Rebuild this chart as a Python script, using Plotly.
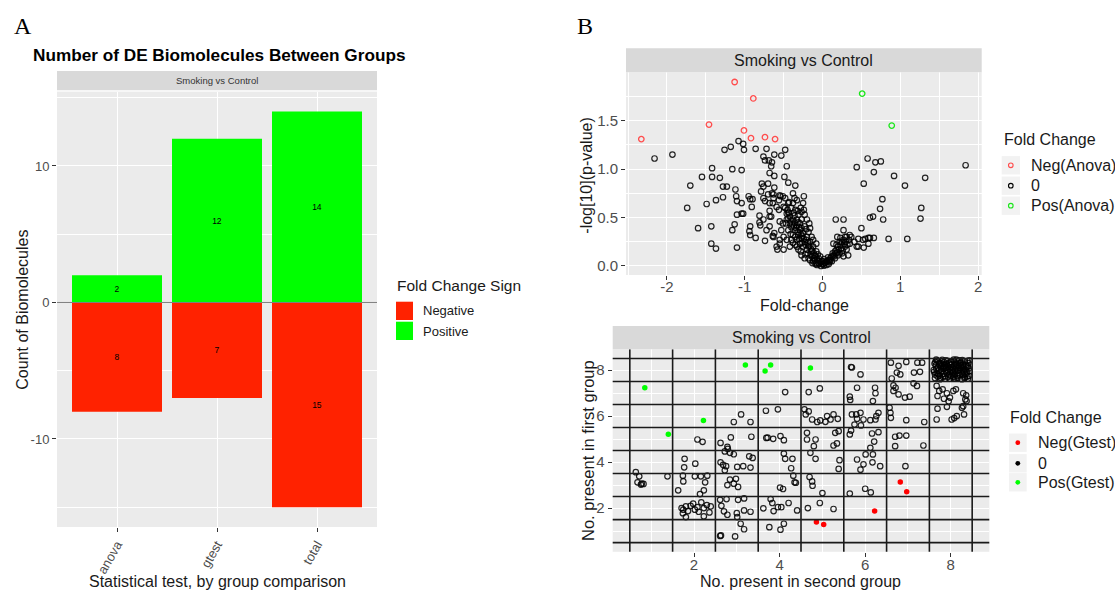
import plotly.graph_objects as go

W, H = 1115, 591
FONT = "Liberation Sans, Arial, Helvetica, sans-serif"
SERIF = "Liberation Serif, Times New Roman, serif"
PANEL_BG = "#EBEBEB"
STRIP_BG = "#D9D9D9"
KEY_BG = "#F2F2F2"
TICK_COLOR = "#4D4D4D"
TITLE_COLOR = "#1A1A1A"

# ---------------- Panel A data ----------------
categories = ["anova", "gtest", "total"]
positive_counts = [2, 12, 14]
negative_counts = [8, 7, 15]
bar_y_ticks = [-10, 0, 10]
bar_y_labels = ["-10", "0", "10"]

# ---------------- Volcano data (fold-change, -log10 p) ----------------
neg_anova_fc = [-2.33, -1.13, -0.89, -1.46, -1.01, -0.92, -0.74, -0.61]
neg_anova_p = [1.31, 1.90, 1.73, 1.46, 1.40, 1.32, 1.33, 1.31]
pos_anova_fc = [0.51, 0.89]
pos_anova_p = [1.78, 1.45]
zero_points = [
    (-2.16, 1.11), (-1.93, 1.15), (-1.70, 0.83), (-1.74, 0.60), (-1.60, 0.39), (-1.55, 0.92),
    (-1.49, 0.64), (-1.42, 1.01), (-1.42, 0.92), (-1.43, 0.41), (-1.43, 0.23), (-1.37, 0.18),
    (-1.37, 0.68), (-1.32, 0.91), (-1.28, 0.82), (-1.23, 0.82), (-1.28, 0.71), (-1.26, 1.20),
    (-1.18, 1.23), (-1.16, 1.00), (-1.16, 0.37), (-1.13, 0.43), (-1.12, 0.79), (-1.11, 0.72),
    (-1.08, 1.29), (-1.02, 1.26), (-1.01, 1.20), (-1.04, 0.99), (-1.10, 0.19), (-1.10, 0.67),
    (-1.04, 0.65), (-1.04, 0.54), (-1.02, 0.54), (-1.10, 0.53), (-0.95, 0.72), (-0.93, 0.69),
    (-0.90, 0.69), (-0.91, 0.61), (-0.93, 0.41), (-0.94, 0.36), (-0.93, 0.32), (-0.86, 0.29),
    (-0.86, 1.21), (-0.81, 0.52), (-0.81, 0.45), (-0.79, 0.77), (-0.78, 0.85), (-0.76, 1.13),
    (-0.74, 1.09), (-0.72, 1.21), (-0.69, 1.09), (-0.65, 1.07), (-0.66, 1.03), (-0.68, 0.96),
    (-0.62, 0.93), (-0.62, 0.81), (-0.76, 0.70), (-0.74, 0.67), (-0.70, 0.74), (-0.63, 0.74),
    (-0.68, 0.65), (-0.64, 0.65), (-0.68, 0.57), (-0.74, 0.26), (-0.64, 0.31), (-0.68, 0.41),
    (-0.66, 0.51), (-0.62, 1.15), (-0.53, 1.14), (-0.48, 1.20), (-0.46, 1.03), (-0.49, 0.92),
    (-0.44, 0.86), (-0.35, 0.83), (-0.54, 0.72), (-0.51, 0.72), (-0.56, 0.68), (-0.50, 0.61),
    (-0.44, 0.65), (-0.38, 0.65), (-0.36, 0.70), (-0.24, 0.72), (-0.25, 0.65), (-0.56, 0.58),
    (-0.51, 0.44), (-0.55, 0.23), (-0.58, 0.17), (-0.62, 0.34),
    (-0.48, 0.70), (-0.43, 0.66), (-0.38, 0.75), (-0.33, 0.68), (-0.55, 0.73), (-0.63, 0.70),
    (-0.65, 0.75), (-0.76, 0.82), (-0.70, 0.85), (-0.59, 0.61), (-0.68, 0.51), (-0.76, 0.48),
    (-0.80, 0.42), (-0.72, 0.37), (-0.63, 0.30), (-0.55, 0.27), (-0.59, 0.20), (-0.53, 0.37),
    (-0.46, 0.48), (-0.55, 0.46),
    (-0.48, 0.60), (-0.46, 0.54), (-0.44, 0.49), (-0.47, 0.44), (-0.42, 0.44), (-0.40, 0.40),
    (-0.38, 0.48), (-0.35, 0.37), (-0.33, 0.42), (-0.31, 0.32), (-0.29, 0.37), (-0.27, 0.29),
    (-0.25, 0.34), (-0.23, 0.25), (-0.20, 0.30), (-0.18, 0.20), (-0.16, 0.25), (-0.14, 0.15),
    (-0.12, 0.20), (-0.10, 0.11), (-0.08, 0.15), (-0.05, 0.08), (-0.03, 0.10), (-0.01, 0.05),
    (0.01, 0.02), (0.03, 0.03), (0.05, 0.01), (0.08, 0.06), (0.10, 0.08), (-0.40, 0.27),
    (-0.35, 0.22), (-0.31, 0.17), (-0.27, 0.11), (-0.23, 0.08), (-0.16, 0.06), (-0.12, 0.05),
    (-0.50, 0.30), (-0.46, 0.27), (-0.42, 0.20), (-0.50, 0.17), (-0.35, 0.30), (-0.29, 0.23),
    (-0.20, 0.17), (-0.44, 0.37), (-0.38, 0.32), (-0.33, 0.27), (-0.25, 0.20), (-0.14, 0.10),
    (-0.10, 0.06), (-0.05, 0.03), (-0.27, 0.48), (-0.23, 0.41), (-0.18, 0.35), (-0.20, 0.48),
    (-0.16, 0.39), (-0.14, 0.30), (-0.12, 0.27), (-0.08, 0.23), (-0.31, 0.53), (-0.35, 0.58),
    (-0.27, 0.56), (-0.40, 0.60), (-0.23, 0.53), (-0.17, 0.44), (-0.29, 0.44), (-0.33, 0.48),
    (-0.42, 0.51), (-0.07, 0.01), (-0.02, 0.00), (0.02, 0.004), (0.08, 0.02), (0.12, 0.05),
    (-0.08, 0.03),
    (-0.45, 0.58), (-0.43, 0.55), (-0.41, 0.47), (-0.39, 0.43), (-0.37, 0.41), (-0.36, 0.45),
    (-0.34, 0.39), (-0.32, 0.35), (-0.30, 0.40), (-0.30, 0.28), (-0.28, 0.33), (-0.26, 0.31),
    (-0.26, 0.24), (-0.24, 0.28), (-0.22, 0.22), (-0.21, 0.27), (-0.19, 0.24), (-0.19, 0.13),
    (-0.17, 0.21), (-0.15, 0.18), (-0.15, 0.12), (-0.13, 0.16), (-0.11, 0.13), (-0.11, 0.08),
    (-0.09, 0.10), (-0.07, 0.07), (-0.06, 0.12), (-0.04, 0.05), (-0.04, 0.02), (-0.02, 0.04),
    (0.00, 0.02), (0.00, 0.05), (0.02, 0.07), (0.04, 0.04), (0.06, 0.05), (0.07, 0.09),
    (0.09, 0.04), (0.11, 0.09), (0.13, 0.13), (0.15, 0.10), (0.17, 0.13), (0.19, 0.14),
    (0.21, 0.17), (0.22, 0.13), (0.24, 0.18), (0.26, 0.16), (0.28, 0.23), (0.30, 0.25),
    (0.32, 0.22), (0.34, 0.27), (0.22, 0.25), (0.18, 0.22), (0.37, 0.30), (-0.36, 0.52),
    (-0.32, 0.57), (-0.28, 0.60), (-0.24, 0.58), (-0.21, 0.38), (-0.27, 0.39), (-0.31, 0.45),
    (-0.37, 0.55), (-0.44, 0.55), (-0.41, 0.33), (-0.38, 0.24), (-0.33, 0.20), (-0.28, 0.15),
    (-0.22, 0.12), (-0.18, 0.08), (-0.13, 0.03), (-0.09, 0.02),
    (0.10, 0.06), (0.12, 0.10), (0.14, 0.11), (0.16, 0.15), (0.18, 0.17), (0.20, 0.20),
    (0.23, 0.22), (0.25, 0.25), (0.27, 0.27), (0.29, 0.20), (0.31, 0.17), (0.25, 0.13),
    (0.20, 0.11), (0.16, 0.08), (0.27, 0.10), (0.33, 0.11), (0.35, 0.23), (0.23, 0.29),
    (0.29, 0.30), (0.17, 0.48), (0.27, 0.48), (0.50, 0.39), (0.46, 0.28), (0.55, 0.28),
    (0.61, 0.29), (0.66, 0.29), (0.46, 0.20), (0.53, 0.19), (0.41, 0.25), (0.31, 0.30),
    (0.19, 0.30), (0.14, 0.23), (0.27, 0.37), (0.35, 0.32),
    (0.58, 1.11), (0.68, 1.07), (0.75, 1.08), (0.44, 1.02), (0.66, 0.97), (0.92, 0.93),
    (0.53, 0.85), (1.06, 0.83), (1.32, 0.91), (1.84, 1.04), (0.77, 0.69), (0.74, 0.59),
    (1.27, 0.60), (1.26, 0.49), (0.65, 0.51), (0.61, 0.50), (0.78, 0.48), (0.85, 0.28),
    (1.09, 0.28), (0.59, 0.29), (0.52, 0.27), (0.44, 0.20), (0.59, 0.23),
]
volcano_x_ticks = [-2, -1, 0, 1, 2]
volcano_x_labels = ["-2", "-1", "0", "1", "2"]
volcano_y_ticks = [0.0, 0.5, 1.0, 1.5]
volcano_y_labels = ["0.0", "0.5", "1.0", "1.5"]

# ---------------- Presence data (second group, first group) ----------------
neg_gtest_x = [4.86, 5.03, 6.22, 6.82, 6.97]
neg_gtest_y = [1.40, 1.29, 1.87, 3.13, 2.71]
pos_gtest_x = [0.85, 1.40, 2.22, 3.20, 3.66, 3.79, 4.72]
pos_gtest_y = [7.23, 5.21, 5.81, 8.22, 7.96, 8.22, 8.09]
presence_zero_points = [
    (0.64, 3.56), (0.72, 3.38), (0.78, 3.06), (0.68, 3.12), (0.76, 3.02), (0.82, 3.05), (1.38, 3.38),
    (1.78, 4.14), (1.77, 3.77), (1.74, 3.41), (1.75, 3.16), (2.03, 3.93), (2.08, 4.98), (2.20, 4.88),
    (2.02, 3.38), (2.16, 3.38), (2.31, 3.41), (2.26, 3.12), (2.14, 2.61), (2.23, 2.77), (1.63, 2.77),
    (1.71, 2.00), (1.75, 1.93), (1.81, 2.07), (1.86, 1.87), (1.81, 1.61), (1.92, 2.10), (1.98, 2.19),
    (2.02, 1.93), (2.08, 2.04), (2.17, 2.25), (2.23, 2.00), (2.30, 2.13), (2.36, 1.81), (2.39, 2.07),
    (2.23, 1.64), (1.74, 1.78), (2.11, 1.84),
    (2.62, 4.83), (2.86, 5.07), (2.93, 5.74), (3.10, 6.07), (3.32, 5.74), (3.34, 5.10), (2.78, 4.66),
    (2.72, 4.46), (2.79, 4.57), (2.84, 4.40), (2.93, 4.34), (2.62, 3.99), (2.68, 3.88), (2.75, 3.82),
    (2.72, 3.64), (3.01, 3.79), (3.15, 3.82), (3.29, 4.25), (3.37, 4.18), (3.32, 3.76), (2.84, 3.24),
    (2.78, 3.00), (2.93, 3.06), (3.03, 2.92), (2.98, 3.27), (2.61, 2.36), (2.76, 2.39), (3.03, 2.36),
    (3.17, 2.42), (2.64, 2.10), (2.70, 1.86), (2.78, 1.71), (3.00, 1.78), (3.01, 1.61), (3.17, 1.90),
    (3.32, 1.84), (3.09, 1.32), (3.17, 1.08), (2.61, 0.79), (2.63, 0.81), (2.96, 0.77),
    (3.68, 6.23), (3.96, 6.29), (4.13, 7.04), (3.69, 5.05), (3.72, 5.06), (3.85, 5.01), (4.02, 5.13),
    (4.10, 4.95), (4.10, 4.37), (4.13, 4.14), (4.30, 4.14), (4.27, 3.73), (4.32, 3.41), (4.35, 3.12),
    (4.38, 3.10), (4.01, 2.89), (4.08, 2.83), (3.79, 2.39), (3.83, 2.22), (3.62, 1.99), (3.86, 1.87),
    (3.96, 2.04), (4.04, 2.04), (4.21, 2.22), (4.41, 1.90), (3.76, 1.17), (4.10, 1.32), (4.02, 1.06),
    (4.68, 7.04), (4.94, 7.20), (4.58, 6.29), (4.68, 6.20), (4.61, 6.07), (4.76, 5.85), (4.88, 5.74),
    (4.95, 5.81), (5.07, 5.75), (5.19, 5.85), (5.26, 6.07), (5.36, 5.88), (5.11, 6.00), (4.64, 5.27),
    (4.64, 4.98), (4.84, 4.98), (4.80, 4.69), (5.26, 4.72), (5.34, 4.81), (5.30, 5.27), (5.38, 5.34),
    (4.72, 4.40), (4.84, 4.14), (5.40, 4.08), (5.38, 3.70), (4.70, 3.35), (4.76, 3.16), (4.77, 2.97),
    (5.00, 2.65), (4.94, 2.22), (4.66, 2.00), (5.26, 1.96),
    (5.67, 8.13), (5.69, 8.11), (5.89, 7.81), (5.81, 7.23), (5.64, 6.84), (5.65, 6.70), (6.23, 7.23),
    (6.24, 6.99), (6.18, 6.65), (5.69, 6.07), (5.79, 6.07), (5.89, 6.14), (5.81, 5.88), (5.96, 5.85),
    (6.12, 5.82), (6.24, 5.85), (6.31, 6.14), (6.26, 6.00), (5.90, 5.59), (5.75, 5.63), (5.64, 5.20),
    (5.67, 5.37), (6.16, 5.24), (6.21, 4.89), (6.31, 5.30), (6.12, 4.62), (6.01, 4.33), (5.96, 3.90),
    (5.89, 3.67), (6.18, 4.33), (6.17, 3.99), (6.35, 3.82), (5.81, 4.11), (5.64, 2.63), (6.00, 2.84),
    (6.13, 2.68),
    (6.60, 8.32), (6.78, 8.18), (6.96, 8.35), (6.74, 7.89), (6.82, 7.81), (6.62, 7.63), (6.66, 7.33),
    (6.71, 7.23), (6.66, 7.09), (6.78, 6.94), (6.93, 6.80), (7.04, 6.84), (7.14, 7.89), (7.22, 8.32),
    (7.33, 8.32), (7.28, 7.92), (7.13, 7.42), (7.21, 7.31), (6.57, 6.36), (6.59, 6.14), (6.60, 5.92),
    (6.96, 5.82), (7.38, 5.74), (6.70, 5.10), (6.80, 5.15), (6.96, 5.15), (6.70, 4.69), (7.36, 4.72),
    (6.94, 3.82),
    (7.67, 7.31), (7.73, 7.09), (7.81, 7.16), (7.91, 6.99), (8.06, 7.09), (8.12, 7.16), (7.69, 6.87),
    (7.84, 6.75), (7.98, 6.80), (8.29, 6.99), (8.36, 6.90), (8.34, 6.72), (8.37, 6.65), (8.26, 6.36),
    (8.29, 6.43), (7.69, 6.32), (7.91, 6.40), (8.14, 6.00), (8.08, 5.91), (8.02, 5.85), (8.31, 6.07),
    (7.67, 5.85), (7.95, 6.64),
    (7.63, 7.65), (7.71, 7.82), (7.66, 8.05), (7.74, 8.31), (7.82, 7.70), (7.88, 7.95), (7.79, 8.18),
    (7.92, 8.40), (7.98, 7.62), (8.05, 7.88), (8.01, 8.12), (8.09, 8.36), (8.15, 7.74), (8.21, 8.02),
    (8.13, 8.24), (8.27, 8.43), (8.33, 7.68), (8.38, 7.91), (8.29, 8.15), (8.41, 8.30), (7.61, 7.92),
    (7.68, 8.41), (7.75, 7.60), (7.85, 8.08), (7.90, 8.27), (7.96, 7.80), (8.03, 8.00), (8.07, 8.45),
    (8.11, 7.62), (8.19, 7.85), (8.24, 8.33), (8.31, 8.05), (8.36, 8.20), (8.43, 7.75), (7.65, 8.20),
    (7.72, 7.98), (7.80, 8.44), (7.87, 7.62), (7.94, 8.15), (8.00, 8.35), (8.06, 7.71), (8.14, 8.10),
    (8.20, 8.42), (8.26, 7.60), (8.30, 7.96), (8.39, 8.40), (7.69, 7.72), (7.77, 8.12), (7.84, 8.34),
    (7.91, 7.86), (7.99, 8.22), (8.04, 7.93), (8.12, 8.29), (8.17, 7.97), (8.23, 8.18), (8.35, 7.83),
    (8.42, 8.07), (7.64, 8.35), (7.73, 8.25), (7.83, 7.84), (7.97, 8.04), (8.08, 8.17), (8.16, 8.40),
    (8.28, 7.78), (8.37, 8.12), (7.76, 7.66), (7.89, 8.10), (8.10, 7.80), (8.25, 8.08), (8.40, 7.62),
    (7.60, 8.00), (7.62, 8.28), (7.67, 7.88), (7.70, 8.10), (7.71, 8.38), (7.74, 7.76), (7.78, 7.95),
    (7.78, 8.28), (7.81, 8.05), (7.86, 7.74), (7.86, 8.20), (7.88, 8.42), (7.93, 7.70), (7.93, 7.99),
    (7.95, 8.30), (8.00, 7.74), (8.02, 8.25), (8.05, 8.08), (8.07, 7.62), (8.11, 7.95), (8.13, 8.45),
    (8.16, 7.66), (8.18, 8.18), (8.21, 7.78), (8.22, 8.30), (8.27, 7.90), (8.28, 8.22), (8.32, 7.64),
    (8.33, 8.38), (8.35, 8.00), (8.39, 7.72), (8.40, 8.15), (8.44, 7.95), (8.44, 8.42), (7.63, 7.80),
    (7.66, 8.45), (7.98, 7.92), (8.10, 8.02), (7.84, 8.15), (8.19, 8.10),
]
presence_ticks = [2, 4, 6, 8]
cell_edges = [0.5, 1.5, 2.5, 3.5, 4.5, 5.5, 6.5, 7.5, 8.5]

zero_fc = [a for a, b in zero_points]
zero_p = [b for a, b in zero_points]
pz_x = [a for a, b in presence_zero_points]
pz_y = [b for a, b in presence_zero_points]


def px(x):
    return x / W


def py(y):
    return 1 - y / H


RED = "#FF2200"
GREEN = "#00FF00"
V_RED = "#FF4D4D"
V_GREEN = "#1AE61A"
BLACK_CIRC = "rgba(0,0,0,0.85)"

fig = go.Figure()

# Panel A bars
fig.add_trace(go.Bar(
    x=categories, y=[-v for v in negative_counts], width=0.9,
    marker=dict(color=RED, line=dict(width=0)),
    text=[str(v) for v in negative_counts], textposition="inside", insidetextanchor="middle",
    textangle=0, textfont=dict(size=8.5, color="black", family=FONT),
    name="Negative", showlegend=False, xaxis="x", yaxis="y", hoverinfo="skip"))
fig.add_trace(go.Bar(
    x=categories, y=positive_counts, width=0.9,
    marker=dict(color=GREEN, line=dict(width=0)),
    text=[str(v) for v in positive_counts], textposition="inside", insidetextanchor="middle",
    textangle=0, textfont=dict(size=8.5, color="black", family=FONT),
    name="Positive", showlegend=False, xaxis="x", yaxis="y", hoverinfo="skip"))

# Volcano
fig.add_trace(go.Scatter(
    x=zero_fc, y=zero_p, mode="markers", xaxis="x2", yaxis="y2", showlegend=False,
    marker=dict(symbol="circle-open", size=5.5, color=BLACK_CIRC, line=dict(width=1.2)), hoverinfo="skip"))
fig.add_trace(go.Scatter(
    x=neg_anova_fc, y=neg_anova_p, mode="markers", xaxis="x2", yaxis="y2", showlegend=False,
    marker=dict(symbol="circle-open", size=5.5, color=V_RED, line=dict(width=1.3)), hoverinfo="skip"))
fig.add_trace(go.Scatter(
    x=pos_anova_fc, y=pos_anova_p, mode="markers", xaxis="x2", yaxis="y2", showlegend=False,
    marker=dict(symbol="circle-open", size=5.5, color=V_GREEN, line=dict(width=1.3)), hoverinfo="skip"))

# Presence plot
fig.add_trace(go.Scatter(
    x=pz_x, y=pz_y, mode="markers", xaxis="x3", yaxis="y3", showlegend=False,
    marker=dict(symbol="circle-open", size=5.5, color=BLACK_CIRC, line=dict(width=1.2)), hoverinfo="skip"))
fig.add_trace(go.Scatter(
    x=neg_gtest_x, y=neg_gtest_y, mode="markers", xaxis="x3", yaxis="y3", showlegend=False,
    marker=dict(symbol="circle", size=5.5, color="#FF0000"), hoverinfo="skip"))
fig.add_trace(go.Scatter(
    x=pos_gtest_x, y=pos_gtest_y, mode="markers", xaxis="x3", yaxis="y3", showlegend=False,
    marker=dict(symbol="circle", size=5.5, color=GREEN), hoverinfo="skip"))

common = dict(showline=False, zeroline=False, ticks="outside", ticklen=4, tickwidth=1,
              tickcolor="#333333", showgrid=True, gridcolor="white", gridwidth=1.1)
minor = dict(showgrid=True, gridcolor="white", gridwidth=0.55)

fig.update_layout(
    width=W, height=H, autosize=False,
    margin=dict(l=0, r=0, t=0, b=0),
    paper_bgcolor="white", plot_bgcolor=PANEL_BG,
    barmode="relative", showlegend=False,
    font=dict(family=FONT, color=TITLE_COLOR),
    xaxis=dict(**common, domain=[px(57), px(377)], anchor="y", type="category",
               range=[-0.6, 2.6], tickangle=-60,
               tickfont=dict(size=13, color=TICK_COLOR)),
    yaxis=dict(**common, domain=[py(527), py(91.6)], anchor="x", range=[-16.45, 15.45],
               tickvals=bar_y_ticks, ticktext=bar_y_labels,
               minor=dict(**minor, dtick=5, tick0=0),
               tickfont=dict(size=13, color=TICK_COLOR)),
    xaxis2=dict(**common, domain=[px(626), px(981.7)], anchor="y2", range=[-2.527, 2.047],
                tickvals=volcano_x_ticks, ticktext=volcano_x_labels, ticklabelstandoff=-6,
                minor=dict(**minor, dtick=0.5, tick0=0),
                tickfont=dict(size=15, color=TICK_COLOR)),
    yaxis2=dict(**common, domain=[py(275), py(72.3)], anchor="x2", range=[-0.093, 2.0],
                tickvals=volcano_y_ticks, ticktext=volcano_y_labels,
                minor=dict(**minor, dtick=0.25, tick0=0),
                tickfont=dict(size=15, color=TICK_COLOR)),
    xaxis3=dict(**common, domain=[px(612.7), px(989.3)], anchor="y3", range=[0.1, 8.9],
                tickvals=presence_ticks, ticklabelstandoff=-5, minor=dict(**minor, dtick=1, tick0=0),
                tickfont=dict(size=15, color=TICK_COLOR)),
    yaxis3=dict(**common, domain=[py(551.8), py(349.3)], anchor="x3", range=[0.1, 8.9],
                tickvals=presence_ticks, minor=dict(**minor, dtick=1, tick0=0),
                tickfont=dict(size=15, color=TICK_COLOR)),
)

shapes = []
annotations = []


def rect(x0, y0, x1, y1, color):
    shapes.append(dict(type="rect", xref="paper", yref="paper", x0=px(x0), x1=px(x1),
                       y0=py(y1), y1=py(y0), fillcolor=color, line=dict(width=0), layer="above"))


def circle(cx, cy, r, color, filled):
    shapes.append(dict(type="circle", xref="paper", yref="paper", x0=px(cx - r), x1=px(cx + r),
                       y0=py(cy + r), y1=py(cy - r),
                       fillcolor=color if filled else "rgba(0,0,0,0)",
                       line=dict(color=color, width=0 if filled else 1.1), layer="above"))


def text(t, x, y, size, color=TITLE_COLOR, xanchor="center", angle=0, family=FONT):
    annotations.append(dict(text=t, x=px(x), y=py(y), xref="paper", yref="paper", showarrow=False,
                            xanchor=xanchor, yanchor="middle", textangle=angle,
                            font=dict(size=size, color=color, family=family)))


# zero line in panel A
shapes.append(dict(type="line", xref="x domain", yref="y", x0=0, x1=1, y0=0, y1=0,
                   line=dict(color="#7F7F7F", width=1), layer="above"))

# black cell lines in presence plot
for e in cell_edges:
    shapes.append(dict(type="line", xref="x3", yref="y3 domain", x0=e, x1=e, y0=0, y1=1,
                       line=dict(color="#1A1A1A", width=1.6), layer="above"))
    shapes.append(dict(type="line", xref="x3 domain", yref="y3", x0=0, x1=1, y0=e, y1=e,
                       line=dict(color="#1A1A1A", width=1.6), layer="above"))

# strips
rect(57, 71, 377, 90.3, STRIP_BG)
text("Smoking vs Control", 217, 81, 9.5, color="#333333")
rect(626, 48.3, 981.7, 72.3, STRIP_BG)
text("Smoking vs Control", 803.8, 60.5, 16, color="#1A1A1A")
rect(612.7, 326, 989.3, 349.3, STRIP_BG)
text("Smoking vs Control", 801, 337.8, 16, color="#1A1A1A")

# panel labels and titles
text("A", 12, 26, 24, color="black", xanchor="left", family=SERIF)
text("B", 575, 26, 24, color="black", xanchor="left", family=SERIF)
text("<b>Number of DE Biomolecules Between Groups</b>", 30.7, 55, 17.2, color="black", xanchor="left")

# axis titles
text("Count of Biomolecules", 21.7, 310, 16, angle=-90)
text("Statistical test, by group comparison", 217, 581.7, 16)
text("-log[10](p-value)", 586.7, 175, 16, angle=-90)
text("Fold-change", 804, 305, 16)
text("No. present in first group", 587.5, 450.5, 16.5, angle=-90)
text("No. present in second group", 800.5, 581.7, 16)

# legend A
text("Fold Change Sign", 395, 285.7, 15.5, xanchor="left")
rect(396, 301.7, 413, 320, RED)
rect(396, 321.7, 413, 340, GREEN)
text("Negative", 420.7, 311, 13, xanchor="left")
text("Positive", 420.7, 331, 13, xanchor="left")

# legend volcano
text("Fold Change", 1001.7, 140, 16, xanchor="left")
for yc, col, lab in [(165.3, V_RED, "Neg(Anova)"), (185.7, "#000000", "0"), (205.7, V_GREEN, "Pos(Anova)")]:
    rect(1001.7, yc - 9.2, 1020, yc + 9.2, KEY_BG)
    circle(1010.8, yc, 2.3, col, False)
    text(lab, 1029.3, yc, 16, xanchor="left")

# legend presence
text("Fold Change", 1008.3, 417.7, 16, xanchor="left")
for yc, col, lab in [(442.7, "#FF0000", "Neg(Gtest)"), (463.3, "#000000", "0"), (482.3, GREEN, "Pos(Gtest)")]:
    rect(1009, yc - 9.2, 1026.7, yc + 9.2, KEY_BG)
    circle(1017.8, yc, 2.4, col, True)
    text(lab, 1036, yc, 16, xanchor="left")

fig.update_layout(shapes=shapes, annotations=annotations)
fig.write_html("out.html", config={"displayModeBar": False},
               post_script="document.body.style.margin='0px';document.body.style.overflow='hidden';")
